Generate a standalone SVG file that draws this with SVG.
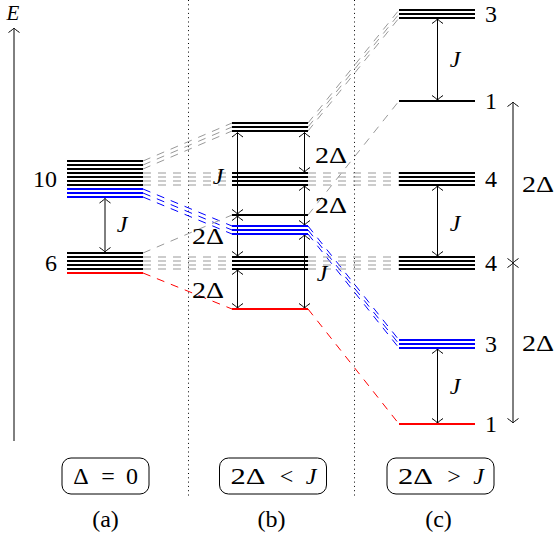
<svg xmlns="http://www.w3.org/2000/svg" width="557" height="535" viewBox="0 0 557 535">
<defs>
<style>
text{font-family:"Liberation Serif","DejaVu Serif",serif;font-size:24px;fill:#000}
.it{font-style:italic}
.mid{text-anchor:middle}
.end{text-anchor:end}
.lk{stroke:#000;stroke-width:1.8;fill:none}
.lb{stroke:#0000ff;stroke-width:1.8;fill:none}
.lr{stroke:#ff0000;stroke-width:1.8;fill:none}
.dg{stroke:#999;stroke-width:1;stroke-dasharray:8 7;fill:none}
.db{stroke:#0000ff;stroke-width:1;stroke-dasharray:8 7;fill:none}
.dr{stroke:#ff0000;stroke-width:1;stroke-dasharray:8 7;fill:none}
.ar{stroke:#000;stroke-width:1;fill:none;marker-start:url(#ah);marker-end:url(#ah)}
.ax{stroke:#000;stroke-width:1;fill:none;marker-end:url(#ah)}
.dot{stroke:#000;stroke-width:1;stroke-dasharray:1 3.3;fill:none}
.box{fill:none;stroke:#000;stroke-width:1}
</style>
<marker id="ah" markerUnits="userSpaceOnUse" viewBox="-6 -7 12 14" markerWidth="12" markerHeight="14" refX="0" refY="0" orient="auto-start-reverse" overflow="visible">
<path d="M-4.5,-5.5 Q-1,-0.6 0,0 Q-1,0.6 -4.5,5.5" fill="none" stroke="#000" stroke-width="1"/>
</marker>
</defs>

<g id="separators">
<line class="dot" x1="188.5" y1="0" x2="188.5" y2="497"/>
<line class="dot" x1="354.5" y1="0" x2="354.5" y2="497"/>
</g>

<g id="energy-axis">
<line class="ax" x1="14" y1="441" x2="14" y2="28"/>
<text class="it mid" x="13" y="20" style="font-size:21px">E</text>
</g>

<g id="connectors">
<path class="dg" d="M143 161L232 123M143 165L232 127M143 169L232 131"/>
<path class="dg" d="M143 173H232M143 177H232M143 181H232M143 185H232"/>
<path class="db" d="M143 189L232 226M143 193L232 230M143 197L232 234"/>
<path class="dg" d="M143 253L232 215"/>
<path class="dg" d="M143 257H232M143 261H232M143 265H232M143 269H232"/>
<path class="dr" d="M143 273L232 309"/>
<path class="dg" d="M308 123L399 10M308 127L399 14M308 131L399 18"/>
<path class="dg" d="M308 173H399M308 177H399M308 181H399M308 185H399"/>
<path class="dg" d="M308 215L399 101"/>
<path class="db" d="M308 226L399 340M308 230L399 344M308 234L399 348"/>
<path class="dg" d="M308 257H399M308 261H399M308 265H399M308 269H399"/>
<path class="dr" d="M308 309L399 424"/>
<line class="ar" x1="105" y1="198.5" x2="105" y2="252"/>
<line class="ar" x1="237.5" y1="132.5" x2="237.5" y2="214"/>
<line class="ar" x1="237.5" y1="216" x2="237.5" y2="256"/>
<line class="ar" x1="237.5" y1="270" x2="237.5" y2="308"/>
<line class="ar" x1="304.5" y1="132.5" x2="304.5" y2="172"/>
<line class="ar" x1="304.5" y1="186" x2="304.5" y2="225"/>
<line class="ar" x1="304.5" y1="235" x2="304.5" y2="308"/>
<line class="ar" x1="437.5" y1="19" x2="437.5" y2="100"/>
<line class="ar" x1="437.5" y1="186" x2="437.5" y2="256"/>
<line class="ar" x1="437.5" y1="349" x2="437.5" y2="423"/>
<line class="ar" x1="513" y1="102" x2="513" y2="263"/>
<line class="ar" x1="513" y1="263" x2="513" y2="423"/>
</g>

<g id="level-a10">
<path class="lk" d="M67 161H143M67 165H143M67 169H143M67 173H143M67 177H143M67 181H143M67 185H143"/>
<path class="lb" d="M67 189H143M67 193H143M67 197H143"/>
<text class="end" x="57" y="187">10</text>
</g>
<g id="level-a6">
<path class="lk" d="M67 253H143M67 257H143M67 261H143M67 265H143M67 269H143"/>
<path class="lr" d="M67 273H143"/>
<text class="end" x="57" y="271">6</text>
</g>

<g id="level-b3"><path class="lk" d="M232 123H308M232 127H308M232 131H308"/></g>
<g id="level-b4u"><path class="lk" d="M232 173H308M232 177H308M232 181H308M232 185H308"/></g>
<g id="level-b1"><path class="lk" d="M232 215H308"/></g>
<g id="level-b3blue"><path class="lb" d="M232 226H308M232 230H308M232 234H308"/></g>
<g id="level-b4l"><path class="lk" d="M232 257H308M232 261H308M232 265H308M232 269H308"/></g>
<g id="level-b1red"><path class="lr" d="M232 309H308"/></g>

<g id="level-c3"><path class="lk" d="M399 10H475M399 14H475M399 18H475"/><text x="485" y="22">3</text></g>
<g id="level-c1"><path class="lk" d="M399 101H475"/><text x="485" y="109">1</text></g>
<g id="level-c4u"><path class="lk" d="M399 173H475M399 177H475M399 181H475M399 185H475"/><text x="485" y="187">4</text></g>
<g id="level-c4l"><path class="lk" d="M399 257H475M399 261H475M399 265H475M399 269H475"/><text x="485" y="271">4</text></g>
<g id="level-c3blue"><path class="lb" d="M399 340H475M399 344H475M399 348H475"/><text x="485" y="352">3</text></g>
<g id="level-c1red"><path class="lr" d="M399 424H475"/><text x="485" y="432">1</text></g>

<g id="labels">
<text class="it mid" x="122" y="232">J</text>
<text class="it mid" x="218" y="184">J</text>
<text class="mid" x="208" y="244" textLength="32" lengthAdjust="spacingAndGlyphs">2Δ</text>
<text class="mid" x="208" y="298" textLength="32" lengthAdjust="spacingAndGlyphs">2Δ</text>
<text class="mid" x="331" y="163" textLength="32" lengthAdjust="spacingAndGlyphs">2Δ</text>
<text class="mid" x="331" y="213" textLength="32" lengthAdjust="spacingAndGlyphs">2Δ</text>
<text class="it mid" x="322" y="281">J</text>
<text class="it mid" x="455" y="67">J</text>
<text class="it mid" x="455" y="231">J</text>
<text class="it mid" x="455" y="394">J</text>
<text class="mid" x="538" y="192" textLength="32" lengthAdjust="spacingAndGlyphs">2Δ</text>
<text class="mid" x="538" y="351" textLength="32" lengthAdjust="spacingAndGlyphs">2Δ</text>
</g>

<g id="case-a">
<rect class="box" x="62" y="458" width="87" height="36" rx="9"/>
<text class="mid" y="484"><tspan x="81">Δ</tspan><tspan x="108">=</tspan><tspan x="132">0</tspan></text>
<text class="mid" x="105.5" y="527">(a)</text>
</g>
<g id="case-b">
<rect class="box" x="219.5" y="458" width="107" height="36" rx="9"/>
<text class="mid" y="484"><tspan x="248" textLength="35" lengthAdjust="spacingAndGlyphs">2Δ</tspan><tspan x="286.5">&lt;</tspan><tspan class="it" x="311">J</tspan></text>
<text class="mid" x="271.5" y="527">(b)</text>
</g>
<g id="case-c">
<rect class="box" x="387" y="458" width="107" height="36" rx="9"/>
<text class="mid" y="484"><tspan x="415.5" textLength="35" lengthAdjust="spacingAndGlyphs">2Δ</tspan><tspan x="454">&gt;</tspan><tspan class="it" x="478.5">J</tspan></text>
<text class="mid" x="438.5" y="527">(c)</text>
</g>
</svg>
